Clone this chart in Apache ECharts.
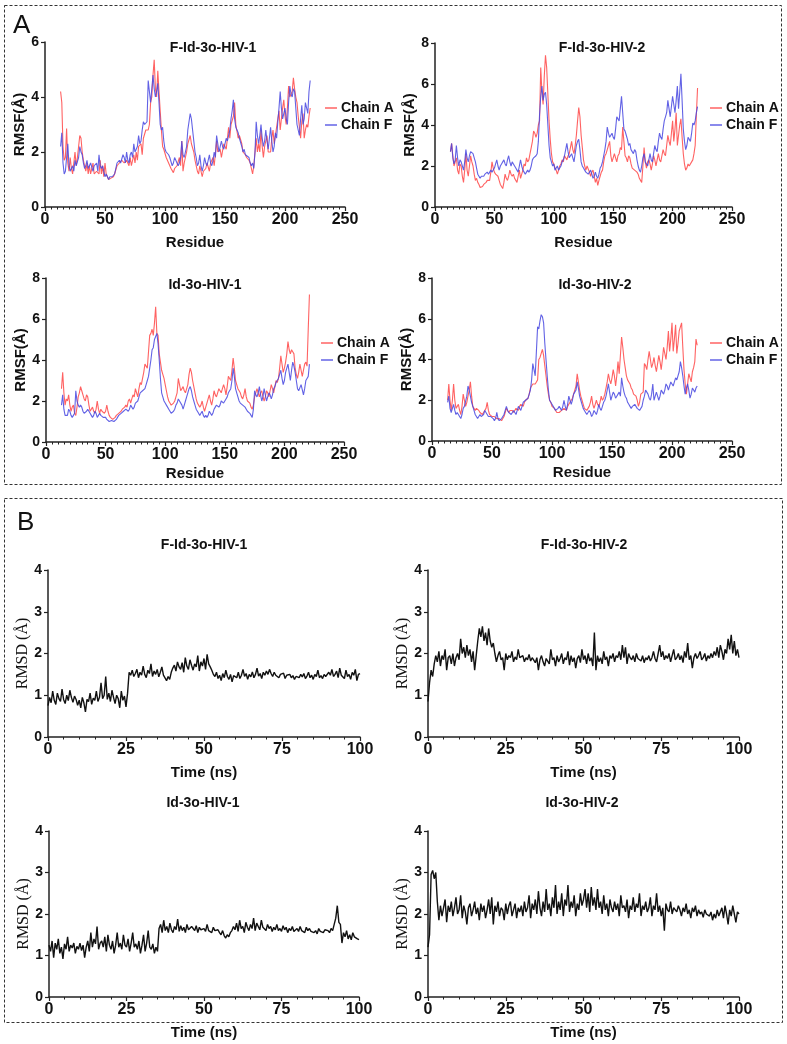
<!DOCTYPE html>
<html><head><meta charset="utf-8">
<script src="https://cdn.jsdelivr.net/npm/echarts@6/dist/echarts.min.js"></script>
<style>html,body{margin:0;padding:0;background:#fff}#c{width:787px;height:1044px}</style>
</head><body><div id="c"></div>
<script>
// ---------- Panel A: RMSF data [residue, RMSF] ----------
const rmsfF1A = [[13,4.2],[14,3.8],[15,2.2],[16,1.7],[17,1.8],[18,2.85],[19,1.6],[20,1.3],[21,1.8],[22,1.4],[23,1.2],[24,1.6],[25,2.0],[26,1.5],[27,1.8],[28,2.2],[29,2.6],[30,2.5],[31,2.0],[32,1.7],[33,1.5],[34,1.3],[35,1.6],[36,1.2],[37,1.5],[38,1.2],[40,1.6],[41,1.2],[43,1.3],[45,1.2],[46,1.7],[47,1.2],[48,1.5],[49,1.1],[50,1.6],[51,1.2],[53,1.0],[55,1.05],[57,1.1],[58,1.2],[60,1.5],[62,1.6],[64,1.7],[66,1.6],[68,1.7],[70,1.5],[71,1.8],[72,1.5],[74,1.9],[75,1.6],[76,2.0],[77,1.7],[78,2.2],[80,2.3],[81,1.9],[82,2.5],[84,2.8],[86,2.8],[87,3.0],[88,3.8],[89,4.0],[90,4.8],[91,5.35],[92,4.3],[93,4.0],[94,4.95],[95,4.2],[96,3.5],[97,2.8],[98,2.2],[99,2.1],[101,1.8],[103,1.6],[105,1.4],[107,1.25],[108,1.4],[110,1.5],[112,1.8],[113,1.5],[114,2.4],[115,1.3],[116,1.6],[118,2.0],[119,2.3],[121,2.6],[122,2.3],[124,2.0],[125,1.7],[127,1.3],[128,1.2],[129,1.5],[131,1.1],[132,1.3],[134,1.4],[135,1.6],[137,1.3],[138,1.6],[140,1.8],[141,1.5],[143,2.4],[144,2.0],[146,2.1],[147,1.8],[149,2.3],[151,2.1],[153,2.9],[154,2.5],[155,3.0],[157,3.3],[158,3.8],[159,3.0],[161,2.5],[162,2.6],[164,2.3],[165,2.0],[167,1.9],[168,1.8],[170,1.7],[171,1.6],[173,1.2],[174,1.5],[176,2.5],[177,2.0],[178,2.3],[179,2.0],[180,2.8],[181,2.2],[182,1.8],[183,2.2],[185,2.6],[186,2.0],[188,2.0],[189,2.5],[190,2.8],[191,2.3],[192,2.3],[193,2.9],[195,3.5],[196,2.8],[197,3.2],[198,3.6],[199,3.9],[200,3.3],[201,3.0],[202,3.6],[203,4.4],[204,4.0],[205,4.0],[206,4.2],[207,4.7],[208,4.3],[209,4.0],[210,3.8],[211,3.3],[212,2.9],[213,2.5],[214,3.1],[215,3.4],[216,2.5],[217,2.8],[218,3.0],[219,2.9],[220,3.3],[221,3.6]];
const rmsfF1F = [[13,2.2],[14,2.7],[15,1.6],[16,1.2],[17,1.3],[18,1.3],[19,2.3],[20,1.5],[21,1.3],[22,1.4],[23,1.5],[24,1.3],[25,1.7],[26,1.5],[27,1.5],[28,1.8],[29,2.2],[30,2.0],[31,1.9],[32,1.6],[33,1.4],[34,1.5],[35,1.7],[36,1.4],[37,1.5],[38,1.6],[40,1.3],[41,1.5],[43,1.6],[44,1.3],[45,1.9],[46,1.5],[47,1.4],[48,1.5],[50,1.1],[51,1.2],[53,1.0],[54,1.1],[56,1.1],[58,1.2],[60,1.6],[62,1.7],[63,1.6],[65,1.9],[66,1.8],[67,1.6],[68,2.0],[69,1.7],[70,1.6],[71,1.9],[72,2.0],[73,1.8],[74,2.3],[75,2.0],[76,2.0],[77,2.2],[78,2.6],[79,2.3],[80,2.4],[81,2.8],[82,3.1],[83,3.0],[84,3.0],[85,3.1],[86,4.6],[87,4.2],[88,3.8],[89,4.3],[90,4.8],[91,4.3],[92,4.0],[93,4.2],[94,4.5],[95,3.8],[96,3.0],[97,2.8],[98,2.9],[99,2.4],[100,2.1],[101,2.0],[103,1.9],[104,1.8],[106,1.5],[107,1.6],[108,1.8],[109,1.7],[110,1.7],[111,1.5],[112,1.6],[113,1.8],[114,2.4],[115,1.9],[116,1.8],[117,2.0],[118,2.2],[119,2.8],[120,3.1],[121,3.4],[122,3.2],[123,2.8],[124,2.4],[125,2.0],[126,1.8],[127,1.5],[128,1.6],[129,1.9],[130,1.5],[131,1.3],[132,1.5],[133,1.8],[134,1.6],[135,1.5],[136,1.7],[137,1.9],[138,1.6],[139,1.5],[140,1.7],[141,2.0],[142,1.8],[143,2.6],[144,2.3],[145,2.0],[146,2.2],[147,2.4],[148,2.2],[149,2.1],[150,2.3],[151,2.5],[152,2.4],[153,2.6],[154,2.8],[155,3.2],[156,3.5],[157,3.9],[158,3.2],[159,2.9],[160,2.8],[161,2.7],[162,2.5],[163,2.5],[164,2.2],[165,2.0],[166,2.1],[167,1.9],[168,1.9],[170,1.8],[171,1.6],[172,1.5],[173,1.6],[174,1.4],[175,2.0],[176,3.1],[177,2.6],[178,2.3],[179,2.6],[180,3.0],[181,2.5],[182,2.2],[183,2.4],[184,2.8],[185,2.4],[186,2.1],[187,2.5],[188,2.9],[189,2.4],[190,2.0],[191,2.2],[192,2.7],[193,2.5],[194,3.1],[195,3.6],[196,4.2],[197,3.6],[198,3.2],[199,3.4],[200,3.6],[201,3.2],[202,3.0],[203,3.8],[204,4.4],[205,4.1],[206,4.0],[207,4.3],[208,4.2],[209,3.6],[210,3.0],[211,2.8],[212,2.6],[213,3.2],[214,3.7],[215,3.0],[216,3.2],[217,3.8],[218,3.6],[219,3.4],[220,4.2],[221,4.6]];
const rmsfF2A = [[13,2.7],[14,3.1],[15,2.5],[16,2.0],[17,2.2],[18,2.4],[19,1.8],[20,1.6],[21,2.1],[22,2.0],[23,1.5],[24,1.2],[25,1.8],[26,2.6],[27,1.8],[28,1.5],[29,2.0],[30,2.5],[31,2.2],[32,2.0],[33,1.6],[34,1.3],[35,1.4],[36,1.2],[37,1.1],[38,0.95],[39,1.0],[40,1.0],[41,1.1],[43,1.2],[44,1.3],[46,1.3],[47,1.7],[48,2.2],[49,1.9],[50,1.7],[51,1.6],[53,1.5],[54,1.3],[55,1.1],[56,1.0],[57,0.9],[58,1.2],[59,1.6],[60,1.4],[61,1.3],[62,1.5],[63,1.8],[64,1.6],[65,1.5],[66,1.6],[67,1.4],[68,1.3],[69,1.2],[70,1.5],[71,1.8],[72,1.4],[73,1.6],[74,1.8],[75,2.1],[76,2.0],[77,2.4],[78,2.2],[79,2.3],[80,2.6],[81,2.9],[82,3.2],[83,3.7],[84,3.6],[85,3.4],[86,3.6],[87,4.0],[88,4.2],[89,6.8],[90,5.6],[91,5.0],[92,6.4],[93,7.4],[94,6.8],[95,5.5],[96,4.2],[97,3.3],[98,2.6],[99,2.2],[100,2.1],[101,1.9],[102,1.8],[103,1.6],[104,1.8],[105,2.0],[106,2.1],[107,2.3],[108,2.2],[109,2.5],[110,2.4],[111,2.3],[112,2.5],[113,2.6],[114,2.9],[115,3.2],[116,2.8],[117,2.6],[118,3.0],[119,3.5],[120,4.2],[121,4.85],[122,4.4],[123,3.5],[124,2.9],[125,2.3],[126,2.0],[127,1.8],[128,2.0],[129,2.0],[130,1.7],[131,1.5],[132,1.7],[133,1.8],[134,1.5],[135,1.2],[136,1.4],[137,1.05],[138,1.3],[139,1.5],[140,1.7],[141,1.8],[142,2.2],[143,2.5],[144,2.6],[145,2.8],[146,3.0],[147,3.2],[148,2.5],[149,2.2],[150,2.4],[151,2.6],[152,2.4],[153,2.2],[154,2.5],[155,2.6],[156,2.9],[157,2.8],[158,3.9],[159,3.2],[160,2.5],[161,2.4],[162,2.2],[163,2.5],[164,2.4],[165,2.1],[166,1.9],[167,1.9],[168,1.8],[169,1.8],[170,1.7],[171,1.6],[172,1.4],[173,1.3],[174,1.2],[175,2.0],[176,2.9],[177,2.2],[178,1.9],[179,2.2],[180,2.3],[181,2.1],[182,1.8],[183,2.1],[184,2.5],[185,2.3],[186,2.0],[187,2.3],[188,2.6],[189,2.3],[190,2.2],[191,2.5],[192,2.8],[193,2.6],[194,2.5],[195,3.0],[196,3.5],[197,3.2],[198,3.0],[199,3.6],[200,4.2],[201,3.2],[202,3.8],[203,4.6],[204,3.0],[205,3.5],[206,4.0],[207,4.3],[208,3.4],[209,2.6],[210,2.1],[211,1.8],[212,1.9],[213,2.1],[214,2.0],[215,2.0],[216,2.2],[217,2.3],[218,2.6],[219,3.0],[220,4.5],[221,5.8]];
const rmsfF2F = [[13,2.7],[14,3.1],[15,2.4],[16,2.1],[17,2.3],[18,3.0],[19,2.4],[20,2.0],[21,2.3],[22,2.2],[23,2.0],[24,1.8],[25,2.2],[26,2.8],[27,2.4],[28,2.2],[29,2.5],[30,2.7],[31,2.7],[32,2.6],[33,2.4],[34,2.2],[35,1.9],[36,1.6],[37,1.5],[38,1.4],[39,1.5],[41,1.5],[42,1.6],[44,1.7],[45,1.6],[47,1.8],[48,1.7],[50,1.9],[51,2.1],[52,2.3],[53,2.0],[54,1.8],[55,2.0],[56,2.1],[57,2.2],[58,2.3],[59,2.1],[60,2.0],[61,2.3],[62,2.5],[63,2.2],[64,2.0],[65,2.2],[66,2.1],[67,2.0],[68,1.9],[69,1.8],[70,1.7],[71,2.0],[72,2.3],[73,2.0],[74,1.8],[75,1.7],[76,1.6],[77,1.7],[78,1.8],[79,1.7],[80,1.8],[81,2.0],[82,2.3],[83,2.4],[84,2.4],[85,2.5],[86,2.6],[87,3.2],[88,4.5],[89,5.4],[90,5.9],[91,5.2],[92,5.5],[93,5.6],[94,5.0],[95,4.0],[96,3.0],[97,2.4],[98,2.2],[99,2.0],[100,2.1],[101,1.8],[102,1.9],[103,2.0],[104,1.8],[105,1.9],[106,2.0],[107,2.2],[108,2.3],[109,2.5],[110,2.8],[111,3.1],[112,2.7],[113,2.4],[114,2.5],[115,2.6],[116,2.4],[117,2.2],[118,2.6],[119,3.0],[120,3.2],[121,3.3],[122,2.8],[123,2.2],[124,2.0],[125,1.9],[126,1.8],[127,1.7],[128,1.7],[129,1.6],[130,1.7],[131,1.8],[132,1.6],[133,1.4],[134,1.5],[135,1.7],[136,1.5],[137,1.4],[138,1.6],[139,1.9],[140,2.0],[141,2.2],[142,2.5],[143,2.8],[144,3.2],[145,3.9],[146,3.6],[147,3.4],[148,3.5],[149,3.6],[150,3.4],[151,3.3],[152,3.8],[153,4.4],[154,4.3],[155,4.2],[156,4.8],[157,5.4],[158,4.6],[159,3.8],[160,3.7],[161,3.5],[162,3.3],[163,3.0],[164,3.1],[165,2.8],[166,2.7],[167,2.6],[168,2.8],[169,2.7],[170,2.3],[171,2.0],[172,1.8],[173,1.7],[174,2.0],[175,2.4],[176,2.6],[177,2.2],[178,2.1],[179,2.0],[180,2.3],[181,2.6],[182,2.3],[183,2.2],[184,2.6],[185,3.0],[186,2.8],[187,2.7],[188,3.2],[189,3.6],[190,3.4],[191,3.3],[192,3.8],[193,4.2],[194,4.4],[195,4.6],[196,5.2],[197,4.8],[198,4.4],[199,4.9],[200,5.4],[201,5.0],[202,4.6],[203,5.2],[204,5.9],[205,4.8],[206,5.6],[207,6.5],[208,5.2],[209,3.8],[210,3.2],[211,2.8],[212,3.0],[213,3.4],[214,3.3],[215,3.2],[216,3.6],[217,4.1],[218,4.0],[219,4.2],[220,4.6],[221,4.9]];
const rmsf1A = [[13,2.6],[14,3.4],[15,2.4],[16,1.8],[17,2.1],[18,2.0],[19,2.3],[20,1.8],[21,1.5],[22,1.7],[23,1.8],[24,1.4],[25,1.3],[26,1.7],[27,2.2],[28,2.4],[29,2.7],[30,2.5],[31,2.3],[32,2.1],[33,2.0],[34,2.3],[35,2.2],[36,1.8],[37,1.5],[38,1.6],[39,1.7],[40,1.5],[41,1.4],[42,1.6],[43,2.0],[44,1.6],[45,1.4],[46,1.6],[47,1.5],[48,1.5],[49,1.4],[50,1.5],[51,1.8],[52,1.5],[53,1.3],[54,1.2],[55,1.2],[56,1.1],[57,1.1],[58,1.2],[59,1.3],[60,1.3],[61,1.4],[62,1.4],[63,1.5],[64,1.6],[65,1.6],[66,1.7],[67,1.8],[68,1.7],[69,2.0],[70,2.1],[71,1.9],[72,2.1],[73,2.3],[74,2.2],[75,2.6],[76,2.4],[77,2.2],[78,2.6],[79,2.9],[80,2.8],[81,3.1],[82,3.4],[83,3.8],[84,3.7],[85,3.6],[86,4.4],[87,5.2],[88,5.3],[89,5.5],[90,5.2],[91,5.8],[92,6.6],[93,5.3],[94,5.2],[95,4.3],[96,3.9],[97,3.5],[98,3.3],[99,3.1],[100,2.8],[101,2.5],[102,2.2],[103,2.0],[104,1.9],[105,1.8],[106,1.8],[107,1.9],[108,2.0],[109,2.2],[110,2.4],[111,3.1],[112,2.8],[113,2.5],[114,2.6],[115,2.7],[116,2.5],[117,2.4],[118,2.6],[119,2.8],[120,3.3],[121,3.6],[122,3.4],[123,3.0],[124,2.7],[125,2.4],[126,2.1],[127,1.9],[128,1.8],[129,1.7],[130,1.8],[131,2.0],[132,1.7],[133,1.5],[134,1.7],[135,1.9],[136,2.1],[137,2.3],[138,2.0],[139,1.8],[140,2.1],[141,2.5],[142,2.3],[143,2.2],[144,2.4],[145,2.6],[146,2.5],[147,2.4],[148,2.6],[149,2.8],[150,2.6],[151,2.3],[152,2.7],[153,3.2],[154,3.1],[155,3.0],[156,3.5],[157,4.1],[158,3.6],[159,3.0],[160,2.8],[161,2.6],[162,2.5],[163,2.4],[164,2.2],[165,2.1],[166,2.3],[167,2.6],[168,2.2],[169,2.0],[170,2.0],[171,1.9],[172,1.7],[173,1.6],[174,1.8],[175,2.2],[176,2.4],[177,2.6],[178,2.4],[179,2.2],[180,2.4],[181,2.5],[182,2.2],[183,2.0],[184,2.2],[185,2.5],[186,2.4],[187,2.2],[188,2.5],[189,2.8],[190,2.6],[191,2.4],[192,2.7],[193,3.0],[194,2.9],[195,3.1],[196,3.6],[197,4.2],[198,3.8],[199,3.4],[200,3.6],[201,3.9],[202,4.3],[203,4.9],[204,4.5],[205,4.3],[206,4.5],[207,4.4],[208,4.3],[209,3.6],[210,3.3],[211,3.1],[212,3.4],[213,3.8],[214,3.5],[215,3.2],[216,3.5],[217,3.8],[218,3.9],[219,3.7],[220,5.5],[221,7.2]];
const rmsf1F = [[13,1.8],[14,2.3],[15,1.6],[16,1.3],[17,1.3],[18,1.3],[19,1.6],[20,1.5],[21,1.3],[22,1.2],[23,1.3],[24,1.4],[25,2.5],[26,2.0],[27,1.8],[28,1.7],[29,1.8],[30,1.7],[31,1.5],[32,1.4],[33,1.4],[34,1.5],[35,1.6],[36,1.5],[37,1.4],[38,1.3],[39,1.2],[40,1.3],[41,1.5],[42,1.4],[43,1.2],[44,1.3],[45,1.4],[46,1.3],[47,1.3],[48,1.2],[49,1.2],[50,1.2],[51,1.1],[52,1.1],[53,1.0],[54,1.0],[55,1.05],[56,1.0],[57,1.0],[58,1.05],[59,1.1],[60,1.2],[61,1.3],[62,1.3],[63,1.4],[64,1.4],[65,1.5],[66,1.5],[67,1.6],[68,1.6],[69,1.5],[70,1.6],[71,1.8],[72,1.7],[73,1.6],[74,1.7],[75,1.9],[76,1.9],[77,2.0],[78,2.2],[79,2.4],[80,2.4],[81,2.5],[82,2.5],[83,2.6],[84,2.8],[85,3.0],[86,3.2],[87,3.6],[88,4.0],[89,4.5],[90,4.6],[91,5.0],[92,5.0],[93,5.3],[94,4.8],[95,4.0],[96,3.1],[97,2.4],[98,2.2],[99,2.0],[100,1.9],[101,1.8],[102,1.7],[103,1.6],[104,1.5],[105,1.4],[106,1.4],[107,1.5],[108,1.6],[109,1.8],[110,1.9],[111,2.1],[112,2.0],[113,2.0],[114,1.8],[115,1.6],[116,1.8],[117,2.0],[118,2.2],[119,2.4],[120,2.6],[121,2.7],[122,2.5],[123,2.2],[124,2.0],[125,1.8],[126,1.6],[127,1.5],[128,1.4],[129,1.3],[130,1.4],[131,1.5],[132,1.3],[133,1.2],[134,1.3],[135,1.2],[136,1.3],[137,1.5],[138,1.4],[139,1.3],[140,1.4],[141,1.6],[142,1.7],[143,1.8],[144,1.8],[145,1.7],[146,1.8],[147,2.0],[148,2.0],[149,1.9],[150,2.0],[151,2.1],[152,2.2],[153,2.4],[154,2.5],[155,2.6],[156,3.0],[157,3.6],[158,3.2],[159,2.6],[160,2.4],[161,2.2],[162,2.0],[163,1.9],[164,1.9],[165,1.8],[166,1.8],[167,1.7],[168,1.6],[169,1.5],[170,1.5],[171,1.4],[172,1.3],[173,1.2],[174,1.6],[175,2.5],[176,2.3],[177,2.2],[178,2.4],[179,2.7],[180,2.3],[181,2.0],[182,2.2],[183,2.6],[184,2.3],[185,2.0],[186,2.2],[187,2.4],[188,2.3],[189,2.1],[190,2.3],[191,2.6],[192,2.7],[193,2.9],[194,3.0],[195,3.1],[196,3.3],[197,3.5],[198,3.1],[199,2.8],[200,3.0],[201,3.4],[202,3.6],[203,3.8],[204,3.4],[205,3.0],[206,3.5],[207,3.9],[208,3.7],[209,3.4],[210,3.0],[211,2.6],[212,2.5],[213,2.5],[214,2.8],[215,2.8],[216,2.3],[217,2.6],[218,3.0],[219,3.1],[220,3.2],[221,3.8]];
const rmsf2A = [[13,2.0],[14,2.8],[15,2.0],[16,1.5],[17,2.0],[18,2.8],[19,2.0],[20,1.6],[21,1.7],[22,1.8],[23,1.5],[24,1.3],[25,1.7],[26,2.3],[27,2.0],[28,1.7],[29,1.9],[30,2.2],[31,2.5],[32,2.9],[33,2.2],[34,1.7],[35,1.6],[36,1.5],[37,1.6],[38,1.6],[39,1.5],[40,1.4],[41,1.4],[42,1.3],[43,1.4],[44,1.4],[45,1.6],[46,1.9],[47,1.5],[48,1.3],[49,1.3],[50,1.2],[51,1.2],[52,1.2],[53,1.2],[54,1.1],[55,1.1],[56,1.1],[57,1.05],[58,1.0],[59,1.1],[60,1.2],[61,1.4],[62,1.6],[63,1.5],[64,1.4],[65,1.5],[66,1.5],[67,1.5],[68,1.4],[69,1.5],[70,1.6],[71,1.6],[72,1.5],[73,1.7],[74,1.8],[75,1.8],[76,1.7],[77,1.9],[78,2.0],[79,2.0],[80,2.1],[81,2.3],[82,2.6],[83,2.7],[84,2.8],[85,2.8],[86,2.8],[87,2.9],[88,3.0],[89,4.0],[90,4.1],[91,4.1],[92,4.5],[93,4.2],[94,3.7],[95,3.2],[96,2.7],[97,2.3],[98,2.0],[99,1.9],[100,1.7],[101,1.7],[102,1.6],[103,1.5],[104,1.4],[105,1.4],[106,1.4],[107,1.4],[108,1.5],[109,1.5],[110,1.6],[111,1.6],[112,1.5],[113,1.7],[114,1.8],[115,1.9],[116,2.0],[117,2.1],[118,2.3],[119,2.5],[120,2.7],[121,3.3],[122,2.9],[123,2.5],[124,2.2],[125,2.0],[126,1.8],[127,1.6],[128,1.6],[129,1.5],[130,1.6],[131,1.7],[132,1.9],[133,2.2],[134,1.8],[135,1.6],[136,1.8],[137,2.0],[138,1.8],[139,1.7],[140,1.9],[141,2.2],[142,2.0],[143,2.1],[144,2.3],[145,2.6],[146,2.9],[147,3.3],[148,3.0],[149,2.8],[150,3.1],[151,3.5],[152,3.2],[153,2.7],[154,3.2],[155,3.9],[156,3.3],[157,4.2],[158,5.1],[159,4.6],[160,4.0],[161,3.6],[162,3.2],[163,3.0],[164,2.9],[165,2.8],[166,2.6],[167,2.5],[168,2.3],[169,2.3],[170,2.2],[171,2.0],[172,1.7],[173,1.9],[174,2.3],[175,2.3],[176,2.4],[177,3.8],[178,3.7],[179,3.5],[180,4.0],[181,4.4],[182,4.0],[183,3.6],[184,3.8],[185,4.1],[186,3.7],[187,3.4],[188,3.8],[189,4.2],[190,3.9],[191,3.5],[192,4.0],[193,4.6],[194,4.3],[195,4.0],[196,4.6],[197,5.4],[198,4.4],[199,5.0],[200,5.8],[201,4.4],[202,5.0],[203,5.7],[204,4.3],[205,4.8],[206,5.4],[207,5.6],[208,5.8],[209,4.6],[210,3.5],[211,2.8],[212,2.3],[213,2.8],[214,3.3],[215,3.1],[216,2.9],[217,3.4],[218,3.6],[219,3.9],[220,5.0],[221,4.7]];
const rmsf2F = [[13,1.9],[14,2.2],[15,1.6],[16,1.4],[17,1.6],[18,1.8],[19,1.5],[20,1.3],[21,1.4],[22,1.4],[23,1.2],[24,1.1],[25,1.3],[26,1.6],[27,1.7],[28,1.7],[29,2.2],[30,2.7],[31,2.5],[32,2.2],[33,1.9],[34,1.7],[35,1.5],[36,1.3],[37,1.2],[38,1.1],[39,1.2],[40,1.3],[41,1.2],[42,1.2],[43,1.3],[44,1.5],[45,1.4],[46,1.3],[47,1.2],[48,1.2],[49,1.2],[50,1.2],[51,1.1],[52,1.0],[53,1.1],[54,1.4],[55,1.1],[56,1.0],[57,1.0],[58,1.1],[59,1.2],[60,1.3],[61,1.5],[62,1.7],[63,1.5],[64,1.4],[65,1.4],[66,1.3],[67,1.4],[68,1.5],[69,1.4],[70,1.3],[71,1.5],[72,1.7],[73,1.6],[74,1.5],[75,1.7],[76,1.9],[77,1.9],[78,2.0],[79,2.0],[80,2.1],[81,2.3],[82,2.5],[83,3.0],[84,3.8],[85,3.5],[86,3.2],[87,4.4],[88,5.6],[89,5.5],[90,5.9],[91,6.2],[92,6.1],[93,5.8],[94,4.8],[95,4.0],[96,3.2],[97,2.5],[98,2.0],[99,1.9],[100,1.8],[101,1.7],[102,1.6],[103,1.5],[104,1.5],[105,1.6],[106,1.7],[107,1.6],[108,1.5],[109,1.7],[110,2.0],[111,1.7],[112,1.5],[113,1.8],[114,2.2],[115,2.0],[116,1.8],[117,2.0],[118,2.3],[119,2.4],[120,2.5],[121,2.9],[122,2.6],[123,2.2],[124,2.0],[125,1.8],[126,1.6],[127,1.5],[128,1.4],[129,1.3],[130,1.4],[131,1.5],[132,1.4],[133,1.2],[134,1.3],[135,1.5],[136,1.4],[137,1.3],[138,1.5],[139,1.8],[140,1.6],[141,1.5],[142,1.7],[143,1.9],[144,2.0],[145,2.2],[146,2.5],[147,2.8],[148,2.4],[149,2.0],[150,2.2],[151,2.4],[152,2.3],[153,2.1],[154,2.2],[155,2.3],[156,2.4],[157,2.2],[158,3.1],[159,2.7],[160,2.4],[161,2.2],[162,2.1],[163,1.9],[164,1.8],[165,1.7],[166,1.6],[167,1.7],[168,1.7],[169,1.8],[170,1.7],[171,1.6],[172,1.6],[173,1.5],[174,1.5],[175,1.7],[176,2.0],[177,2.2],[178,2.5],[179,2.4],[180,2.3],[181,2.1],[182,2.0],[183,2.3],[184,2.8],[185,2.0],[186,2.2],[187,2.4],[188,2.2],[189,2.0],[190,2.2],[191,2.5],[192,2.4],[193,2.3],[194,2.5],[195,2.8],[196,2.7],[197,2.5],[198,2.7],[199,2.9],[200,2.8],[201,2.7],[202,2.9],[203,3.1],[204,3.0],[205,3.0],[206,3.4],[207,3.9],[208,3.6],[209,3.2],[210,2.7],[211,2.3],[212,2.6],[213,2.8],[214,2.5],[215,2.1],[216,2.3],[217,2.6],[218,2.5],[219,2.4],[220,2.6],[221,2.7]];

// ---------- Panel B: RMSD data, one value every 0.5 ns from 0 to 100 ns ----------
const rmsdStepNs = 0.5;
const rmsdF1 = [0.75,0.95,0.82,1.1,0.88,0.78,1.05,0.92,0.85,1.15,0.9,0.8,1.0,0.87,1.12,0.95,0.83,0.98,0.9,0.76,
0.88,0.7,0.95,0.82,0.6,0.9,0.85,1.05,0.78,0.93,0.88,1.1,0.85,0.95,1.3,0.92,1.0,1.45,0.9,1.05,
0.85,1.12,0.95,0.8,1.0,0.92,0.7,1.1,0.88,0.98,0.72,1.05,1.55,1.48,1.6,1.45,1.52,1.62,1.42,1.55,
1.48,1.7,1.5,1.42,1.6,1.52,1.75,1.45,1.58,1.5,1.62,1.44,1.55,1.68,1.48,1.52,1.35,1.45,1.38,1.55,
1.65,1.72,1.58,1.8,1.68,1.62,1.78,1.55,1.9,1.7,1.62,1.85,1.72,1.6,1.75,1.68,1.95,1.58,1.8,1.7,
1.88,1.62,1.98,1.75,1.68,1.6,1.5,1.45,1.55,1.4,1.48,1.35,1.52,1.42,1.6,1.45,1.38,1.5,1.32,1.47,
1.5,1.42,1.55,1.4,1.48,1.62,1.45,1.52,1.38,1.5,1.44,1.56,1.42,1.5,1.65,1.46,1.52,1.4,1.55,1.48,
1.58,1.5,1.62,1.52,1.45,1.55,1.48,1.52,1.42,1.5,1.46,1.53,1.4,1.48,1.44,1.5,1.42,1.47,1.38,1.45,
1.48,1.42,1.5,1.44,1.52,1.4,1.46,1.55,1.42,1.48,1.38,1.5,1.45,1.6,1.42,1.47,1.4,1.5,1.45,1.42,
1.55,1.48,1.62,1.45,1.5,1.58,1.42,1.65,1.48,1.52,1.4,1.6,1.45,1.5,1.38,1.55,1.48,1.62,1.35,1.5,
1.52];
const rmsdF2 = [0.85,1.3,1.6,1.45,1.75,1.95,1.8,2.05,1.7,1.95,1.85,2.1,1.6,1.9,1.95,1.75,2.0,1.7,1.9,2.0,
1.85,2.35,2.0,2.15,1.9,2.2,1.95,2.1,1.8,2.05,1.6,1.95,2.3,2.6,2.4,2.65,2.3,2.5,2.2,2.6,
2.3,2.15,2.25,2.0,1.8,1.95,2.05,1.85,1.9,1.6,2.0,1.85,1.95,1.9,2.05,1.8,1.92,1.85,2.1,1.9,
1.88,1.95,1.8,1.9,1.85,1.98,1.82,1.9,1.87,1.78,1.9,1.6,1.85,1.95,1.8,1.7,1.88,1.92,1.75,2.1,
1.85,1.9,1.7,1.95,1.8,1.88,2.0,1.75,1.9,1.85,2.05,1.72,1.95,1.8,1.9,1.65,1.88,1.95,1.78,2.1,
1.85,1.95,1.75,2.0,1.82,1.9,1.7,2.5,1.6,1.95,1.8,1.9,1.75,2.05,1.85,1.92,1.7,1.95,1.88,2.0,
1.8,1.95,1.9,2.05,1.85,2.2,1.9,2.15,1.75,2.0,1.9,1.85,1.95,1.8,2.0,1.88,1.9,1.82,1.95,1.78,
1.9,1.85,1.95,1.82,1.9,2.05,1.88,1.8,2.0,2.2,1.92,2.05,1.85,1.95,1.88,2.0,1.8,1.95,2.1,1.85,
1.9,2.0,1.85,1.95,1.78,2.05,1.9,2.25,1.85,1.95,1.65,1.9,2.0,1.88,1.95,2.05,1.85,1.9,2.0,1.82,
1.95,1.88,2.0,1.9,2.05,1.95,2.15,1.9,2.2,2.05,1.85,2.1,2.0,2.35,2.1,2.45,2.0,2.3,1.95,2.1,
1.9];
const rmsd1 = [1.25,1.1,1.35,0.95,1.3,1.15,1.4,1.05,1.2,0.92,1.28,1.15,1.45,1.1,1.25,1.18,1.3,1.05,1.22,1.15,
1.3,1.12,1.25,0.95,1.2,1.35,1.1,1.55,1.2,1.4,1.28,1.7,1.15,1.3,1.35,1.2,1.45,1.1,1.5,1.25,
1.15,1.35,1.05,1.25,1.55,1.2,1.3,1.15,1.5,1.25,1.2,1.4,1.1,1.3,1.55,1.2,1.28,1.15,1.35,1.05,
1.25,1.5,1.1,1.3,1.6,1.2,1.15,1.28,1.05,1.2,1.1,1.65,1.75,1.55,1.85,1.6,1.7,1.55,1.78,1.62,
1.55,1.7,1.62,1.88,1.58,1.72,1.6,1.68,1.55,1.75,1.62,1.58,1.7,1.65,1.6,1.72,1.55,1.68,1.62,1.6,
1.65,1.58,1.75,1.6,1.62,1.55,1.68,1.6,1.58,1.62,1.55,1.5,1.6,1.48,1.42,1.5,1.45,1.55,1.6,1.7,
1.62,1.78,1.58,1.85,1.65,1.7,1.55,1.8,1.68,1.6,1.75,1.65,1.9,1.6,1.78,1.7,1.62,1.85,1.68,1.72,
1.6,1.75,1.65,1.7,1.58,1.68,1.62,1.75,1.6,1.65,1.58,1.72,1.62,1.68,1.55,1.65,1.6,1.7,1.58,1.62,
1.65,1.58,1.7,1.6,1.62,1.55,1.68,1.6,1.65,1.58,1.62,1.55,1.6,1.52,1.65,1.58,1.6,1.55,1.62,1.58,
1.6,1.55,1.65,1.6,1.62,1.9,2.2,1.8,1.75,1.3,1.55,1.45,1.6,1.4,1.5,1.38,1.55,1.45,1.48,1.4,
1.38];
const rmsd2 = [1.2,1.5,2.95,3.05,2.85,3.0,2.3,1.85,2.2,1.95,2.15,2.35,1.8,2.2,2.05,2.3,1.95,2.15,2.4,2.0,
2.1,2.45,1.9,2.2,2.05,1.75,2.15,2.25,1.95,2.1,2.3,2.0,2.15,1.85,2.25,2.05,2.2,1.9,2.1,2.35,
2.0,2.4,1.75,2.2,2.05,2.3,1.95,2.15,2.1,1.85,2.25,2.0,2.2,2.3,1.95,2.1,2.25,1.9,2.15,2.05,
2.2,1.95,2.3,2.05,2.15,2.45,1.9,2.25,2.1,2.35,2.0,2.55,2.15,1.95,2.3,2.05,2.6,2.1,2.25,1.95,
2.4,2.15,2.7,2.0,2.3,2.1,2.5,1.95,2.35,2.2,2.7,2.05,2.3,2.15,2.45,1.95,2.25,2.1,2.5,2.2,
2.35,2.6,2.15,2.5,2.05,2.65,2.2,2.4,2.1,2.6,2.15,2.3,2.0,2.45,2.1,2.25,1.95,2.35,2.15,2.05,
2.3,2.1,2.25,1.95,2.45,2.15,2.2,2.05,2.35,1.9,2.2,2.1,2.4,2.05,2.25,2.15,2.5,1.95,2.2,2.1,
2.3,2.05,2.15,2.4,1.95,2.2,2.1,2.5,2.05,2.2,1.95,2.15,1.6,2.25,2.1,2.05,2.3,2.0,2.15,2.1,
2.05,2.2,2.1,1.95,2.15,2.05,2.25,2.0,2.1,1.9,2.15,2.05,2.2,1.95,2.1,2.0,2.05,1.92,2.1,2.0,
2.0,1.95,2.05,1.85,2.0,1.9,2.1,1.95,2.05,2.15,1.9,2.2,2.0,1.75,2.1,1.95,2.2,2.0,1.8,2.05,
2.0];

const rmsfTitles = ['F-Id-3o-HIV-1','F-Id-3o-HIV-2','Id-3o-HIV-1','Id-3o-HIV-2'];
const rmsdTitles = ['F-Id-3o-HIV-1','F-Id-3o-HIV-2','Id-3o-HIV-1','Id-3o-HIV-2'];
const rmsfYMax = [6, 8, 8, 8];
const seriesNames = ['Chain A','Chain F'];

// ---------- Layout ----------
const SANS = '"Liberation Sans", Arial, sans-serif';
const SERIF = '"Liberation Serif", "Times New Roman", serif';
const gridsPos = [
  {left:45, top:42, width:300, height:165},
  {left:435, top:43, width:297, height:164},
  {left:46, top:278, width:298, height:164},
  {left:432, top:278, width:300, height:163},
  {left:48, top:570, width:312, height:167},
  {left:428, top:570, width:311, height:167},
  {left:49, top:831, width:310, height:166},
  {left:428, top:831, width:311, height:166}
];
const titlePos = [[213,48],[602,48],[205,285],[595,285],[204,545],[584,545],[203,803],[582,803]];
const legendPos = [[320,96],[705,96],[316,331],[705,331]];
const xNameGaps = [28, 28, 24, 24, 28, 28, 28, 28];

const grid = gridsPos.map(g => Object.assign({containLabel:false}, g));
const xAxis = [], yAxis = [], series = [];
for (let i = 0; i < 8; i++) {
  const isA = i < 4;
  xAxis.push({
    type:'value', gridIndex:i, min:0, max: isA ? 250 : 100, interval: isA ? 50 : 25,
    name: isA ? 'Residue' : 'Time (ns)', nameLocation:'middle', nameGap: xNameGaps[i],
    nameTextStyle:{fontFamily:SANS, fontWeight:'bold', fontSize:15, color:'#111'},
    axisLine:{show:true, onZero:false, lineStyle:{color:'#222', width:1.5}},
    axisTick:{show:true, inside:false, length:4, lineStyle:{color:'#222', width:1.2}},
    minorTick:{show:true, splitNumber: isA ? 10 : 5, length:2.5, lineStyle:{color:'#222', width:1}},
    axisLabel:{fontFamily:SANS, fontWeight:'bold', fontSize:16, color:'#111', margin:5},
    splitLine:{show:false}
  });
  yAxis.push({
    type:'value', gridIndex:i, min:0, max: isA ? rmsfYMax[i] : 4, interval: isA ? 2 : 1,
    name: isA ? 'RMSF(Å)' : 'RMSD (Å)', nameLocation:'middle', nameGap: isA ? 17 : 15,
    nameTextStyle: isA ? {fontFamily:SANS, fontWeight:'bold', fontSize:15, color:'#111'}
                       : {fontFamily:SERIF, fontWeight:'normal', fontSize:16, color:'#111'},
    axisLine:{show:true, onZero:false, lineStyle:{color:'#222', width:1.5}},
    axisTick:{show:true, inside:false, length:4, lineStyle:{color:'#222', width:1.2}},
    axisLabel:{fontFamily:SANS, fontWeight:'bold', fontSize:14, color:'#111', margin:6},
    splitLine:{show:false}
  });
}
const rmsfSets = [[rmsfF1A, rmsfF1F],[rmsfF2A, rmsfF2F],[rmsf1A, rmsf1F],[rmsf2A, rmsf2F]];
const redCol = 'rgba(255,70,70,0.85)', blueCol = 'rgba(70,70,225,0.85)';
rmsfSets.forEach((pair, i) => {
  series.push({type:'line', name:seriesNames[0], xAxisIndex:i, yAxisIndex:i, data:pair[0], symbol:'none',
    lineStyle:{color:redCol, width:1.1}, itemStyle:{color:redCol}, z:2, animation:false});
  series.push({type:'line', name:seriesNames[1], xAxisIndex:i, yAxisIndex:i, data:pair[1], symbol:'none',
    lineStyle:{color:blueCol, width:1.1}, itemStyle:{color:blueCol}, z:3, animation:false});
});
[rmsdF1, rmsdF2, rmsd1, rmsd2].forEach((vals, k) => {
  series.push({type:'line', name:'RMSD '+rmsdTitles[k], xAxisIndex:4+k, yAxisIndex:4+k,
    data: vals.map((v, j) => [j * rmsdStepNs, v]), symbol:'none',
    lineStyle:{color:'#111', width:1.4}, animation:false});
});

const legend = legendPos.map(p => ({
  left:p[0], top:p[1], orient:'vertical', data:seriesNames, icon:'rect', itemWidth:12, itemHeight:1.5,
  itemGap:3, selectedMode:false,
  textStyle:{fontFamily:SANS, fontWeight:'bold', fontSize:14, color:'#111', padding:[0,0,0,-1]}
}));

const graphic = [];
const allTitles = rmsfTitles.concat(rmsdTitles);
allTitles.forEach((t, i) => {
  graphic.push({type:'text', x:titlePos[i][0], y:titlePos[i][1],
    style:{text:t, font:'bold 14px ' + SANS, fill:'#111', align:'center', verticalAlign:'middle'}});
});
graphic.push({type:'text', x:13, y:13, style:{text:'A', font:'26px ' + SANS, fill:'#111', align:'left', verticalAlign:'top'}});
graphic.push({type:'text', x:17, y:510, style:{text:'B', font:'26px ' + SANS, fill:'#111', align:'left', verticalAlign:'top'}});
graphic.push({type:'rect', shape:{x:4.5, y:5.5, width:777, height:479},
  style:{fill:'none', stroke:'#333', lineWidth:1, lineDash:[3,2]}});
graphic.push({type:'rect', shape:{x:4.5, y:498.5, width:778, height:524},
  style:{fill:'none', stroke:'#333', lineWidth:1, lineDash:[3,2]}});

const chart = echarts.init(document.getElementById('c'), null, {renderer:'canvas'});
chart.setOption({animation:false, backgroundColor:'#fff', grid, xAxis, yAxis, series, legend, graphic});
</script></body></html>
